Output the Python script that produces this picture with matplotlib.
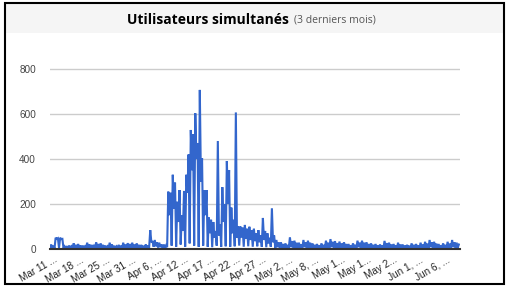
import numpy as np
import matplotlib
matplotlib.use("Agg")
import matplotlib.pyplot as plt
from matplotlib.patches import Rectangle

# ---- data (per day: night trough, first top, mid-day dip, second top) ----
day_troughs = [4, 3, 5, 3, 4, 2, 5, 3, 4, 3, 5, 4, 3, 4, 2, 5, 3, 4, 3, 5, 4, 3,
               5, 10, 6, 4,
               8, 15, 10, 20, 10, 25, 15, 10, 15, 10, 8, 15, 10, 12, 10, 12,
               15, 10, 12, 10, 12, 10, 8, 10,
               5, 4, 3, 5, 4, 3, 5, 4, 3, 4, 5, 3, 4, 5, 3, 4, 3, 5, 4, 3,
               4, 5, 3, 4, 3, 5, 4, 3, 4, 5, 3, 4, 3, 5, 4, 3, 4, 5, 3, 4, 3]
day_first = [20, 50, 50, 12, 15, 25, 22, 15, 28, 18, 30, 25, 15, 28, 14, 18, 28, 26, 28, 25, 18, 20,
             84, 40, 28, 20,
             255, 330, 210, 150, 330, 529, 603, 707, 260, 140, 120, 480, 275, 391, 184, 607,
             100, 107, 99, 90, 84, 138, 70, 181,
             40, 30, 25, 52, 37, 28, 40, 37, 25, 22, 25, 37, 44, 35, 33, 30, 22, 25, 37, 37,
             30, 25, 22, 20, 36, 28, 22, 28, 20, 18, 25, 22, 28, 32, 40, 32, 22, 25, 32, 40, 28]
day_dip = [6, 45, 44, 5, 6, 6, 5, 6, 6, 5, 6, 6, 5, 6, 5, 6, 6, 6, 6, 6, 5, 6,
           30, 12, 8, 6,
           150, 180, 120, 80, 250, 350, 400, 300, 150, 70, 50, 60, 120, 200, 70, 50,
           50, 45, 40, 35, 30, 40, 25, 30,
           8, 6, 6, 8, 6, 6, 8, 6, 6, 6, 6, 6, 8, 6, 6, 6, 6, 6, 8, 6,
           6, 6, 6, 6, 6, 6, 6, 6, 6, 6, 6, 6, 6, 6, 8, 6, 6, 6, 6, 8, 6]
day_second = [14, 48, 45, 10, 12, 18, 16, 12, 20, 14, 22, 18, 12, 20, 12, 14, 20, 22, 20, 18, 14, 15,
              35, 30, 20, 16,
              250, 295, 262, 258, 420, 510, 471, 404, 262, 130, 80, 110, 200, 351, 130, 100,
              95, 90, 84, 70, 60, 80, 50, 60,
              30, 22, 18, 35, 28, 20, 30, 28, 18, 16, 18, 28, 32, 26, 25, 22, 16, 18, 28, 28,
              22, 18, 16, 15, 26, 20, 16, 20, 15, 14, 18, 16, 20, 24, 30, 24, 16, 18, 24, 30, 20]
tick_labels = ["Mar 11 ...", "Mar 18 ...", "Mar 25 ...", "Mar 31 ...", "Apr 6, ...",
               "Apr 12 ...", "Apr 17 ...", "Apr 22 ...", "Apr 27 ...", "May 2, ...",
               "May 8, ...", "May 1...", "May 1...", "May 2...", "Jun 1, ...", "Jun 6, ..."]
y_ticks = [0, 200, 400, 600, 800]

days = np.arange(len(day_first))
x = np.column_stack([days, days + 0.25, days + 0.5, days + 0.75]).ravel()
y = np.column_stack([day_troughs, day_first, day_dip, day_second]).ravel()

W, H = 510, 290
fig = plt.figure(figsize=(W / 100, H / 100), dpi=100)
fig.patch.set_facecolor("white")

# title bar & frame
fig.patches.append(Rectangle((5 / W, 1 - 33 / H), 499 / W, 29 / H, transform=fig.transFigure,
                             facecolor="#f5f5f5", edgecolor="none", zorder=0))
fig.patches.append(Rectangle((5 / W, 1 - 284 / H), 499 / W, 281 / H, transform=fig.transFigure,
                             facecolor="none", edgecolor="black", linewidth=1.5, zorder=5))
fig.text(127 / W, 1 - 20 / H, "Utilisateurs simultanés", ha="left", va="center",
         fontsize=10, fontweight="bold", family="Open Sans", color="#000000")
fig.text(294 / W, 1 - 20 / H, "(3 derniers mois)", ha="left", va="center",
         fontsize=7.5, family="Open Sans", color="#555555")

ax = fig.add_axes([50 / W, (H - 249) / H, 410 / W, 198 / H])
ax.plot(x, y, color="#3366cc", linewidth=1.5, solid_joinstyle="miter")
ax.set_xlim(0, len(day_first))
ax.set_ylim(0, 880)
ax.set_yticks(y_ticks)
ax.set_yticklabels([str(v) for v in y_ticks], fontsize=7.2, color="#444444", family="Liberation Sans")
ax.yaxis.grid(True, color="#cccccc", linewidth=1)
ax.set_axisbelow(True)
ax.tick_params(axis="y", length=0, pad=10)
ticks = 0.9 + 5.8 * np.arange(len(tick_labels))
ax.set_xticks(ticks)
ax.set_xticklabels(tick_labels, rotation=30, ha="right", rotation_mode="anchor",
                   fontsize=7.2, color="#222222", family="Liberation Sans")
ax.tick_params(axis="x", length=0, pad=4)
for s in ["top", "right", "left"]:
    ax.spines[s].set_visible(False)
ax.spines["bottom"].set_color("#333333")
ax.spines["bottom"].set_linewidth(1.5)
ax.set_facecolor("none")

fig.savefig("out.png", dpi=100)
